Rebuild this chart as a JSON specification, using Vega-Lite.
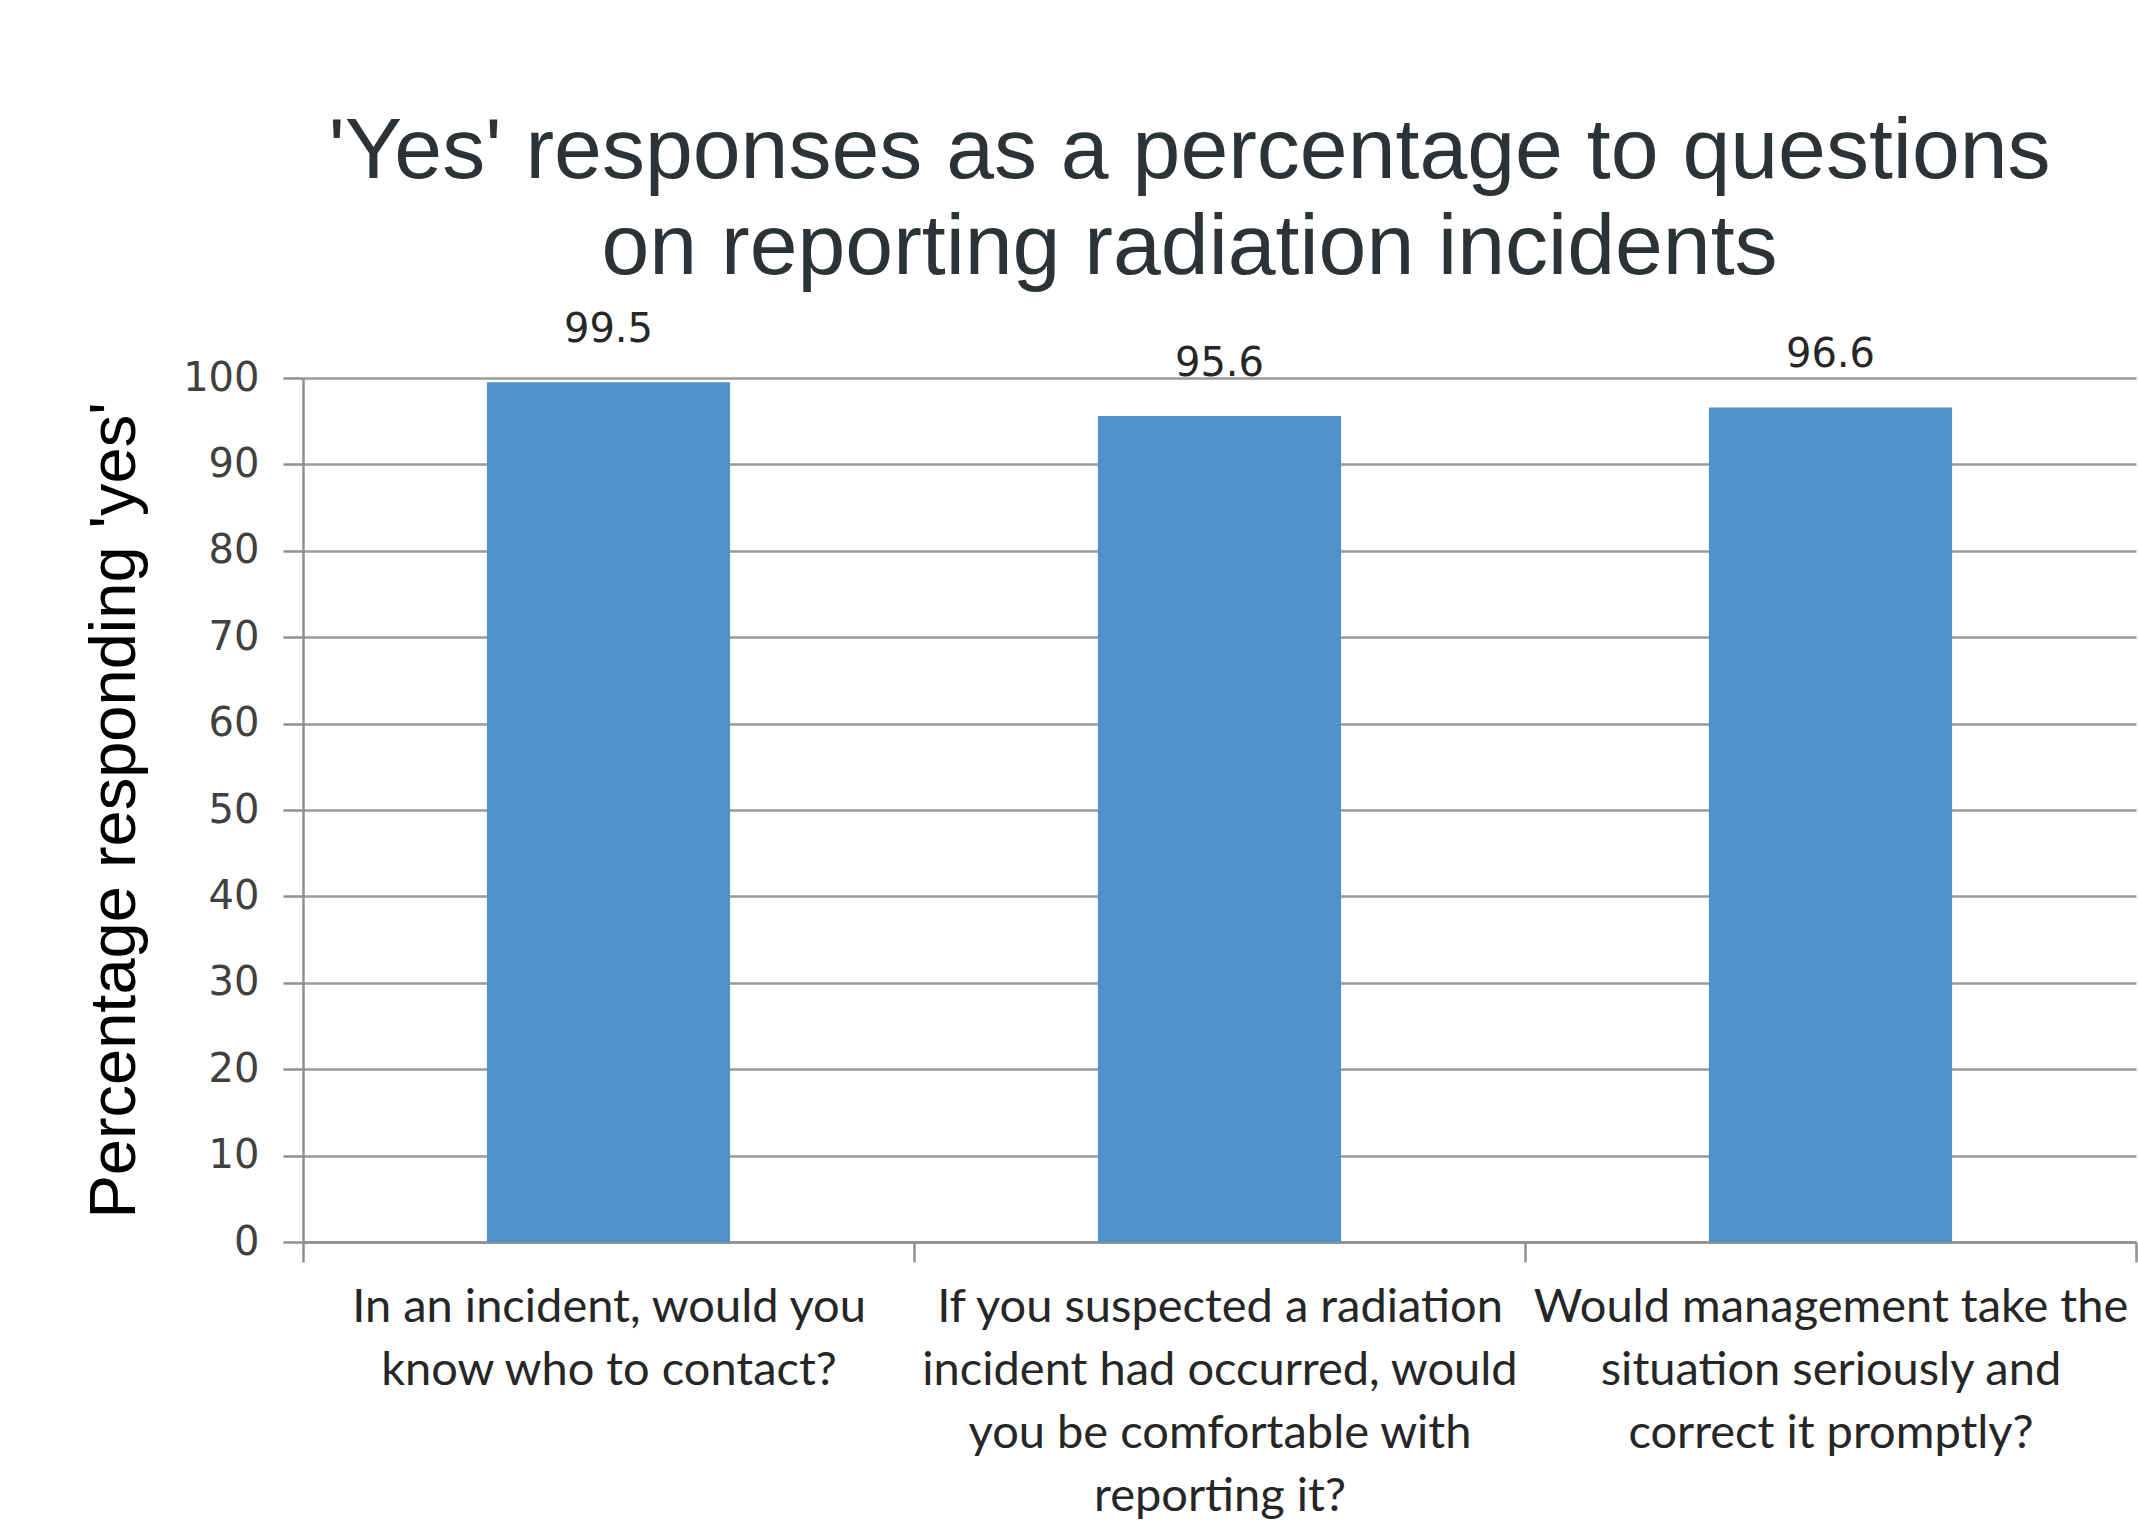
{
  "$schema": "https://vega.github.io/schema/vega-lite/v6.json",
  "autosize": {"type": "none"},
  "width": 1833,
  "height": 864,
  "padding": {"left": 303, "top": 378, "right": 2, "bottom": 285},
  "background": "#ffffff",
  "title": {
    "text": ["'Yes' responses as a percentage to questions", "on reporting radiation incidents"],
    "font": "Liberation Sans",
    "fontSize": 86,
    "fontWeight": "normal",
    "color": "#2b3336",
    "lineHeight": 96,
    "anchor": "middle",
    "frame": "group",
    "dx": -30,
    "dy": 180,
    "baseline": "alphabetic",
    "offset": 130
  },
  "data": {
    "values": [
      {"question": "In an incident, would you\nknow who to contact?", "pct": 99.5},
      {"question": "If you suspected a radiation\nincident had occurred, would\nyou be comfortable with\nreporting it?", "pct": 95.6},
      {"question": "Would management take the\nsituation seriously and\ncorrect it promptly?", "pct": 96.6}
    ]
  },
  "encoding": {
    "x": {
      "field": "question",
      "type": "nominal",
      "sort": null,
      "scale": {"paddingInner": 0, "paddingOuter": 0},
      "axis": {
        "title": null,
        "labelAngle": 0,
        "labelExpr": "split(datum.label, '\\n')",
        "labelFont": "Lato",
        "labelFontSize": 47,
        "labelColor": "#262626",
        "labelLineHeight": 63,
        "labelBaseline": "top",
        "labelPadding": 22,
        "labelLimit": 0,
        "tickBand": "extent",
        "tickSize": 20,
        "tickColor": "#8f8f8f",
        "tickWidth": 2.5,
        "domainColor": "#8f8f8f",
        "domainWidth": 2.5
      }
    },
    "y": {
      "field": "pct",
      "type": "quantitative",
      "scale": {"domain": [0, 100], "nice": false},
      "axis": {
        "title": "Percentage responding 'yes'",
        "titleFont": "Liberation Sans",
        "titleFontSize": 65,
        "titleFontWeight": "normal",
        "titleColor": "#000000",
        "titlePadding": 34,
        "values": [0, 10, 20, 30, 40, 50, 60, 70, 80, 90, 100],
        "labelFont": "DejaVu Sans",
        "labelFontSize": 40,
        "labelColor": "#404040",
        "labelPadding": 24,
        "tickSize": 20,
        "tickColor": "#8f8f8f",
        "tickWidth": 2.5,
        "domainColor": "#8f8f8f",
        "domainWidth": 2.5,
        "grid": true,
        "gridColor": "#9a9a9a",
        "gridWidth": 2.5
      }
    }
  },
  "layer": [
    {"mark": {"type": "bar", "color": "#4f92cc", "width": {"band": 0.398}}},
    {
      "mark": {"type": "text", "dy": -40, "baseline": "alphabetic", "font": "DejaVu Sans", "fontSize": 40, "color": "#262626"},
      "encoding": {"text": {"field": "pct", "type": "quantitative", "format": ".1f"}}
    }
  ],
  "config": {"view": {"stroke": null}}
}
